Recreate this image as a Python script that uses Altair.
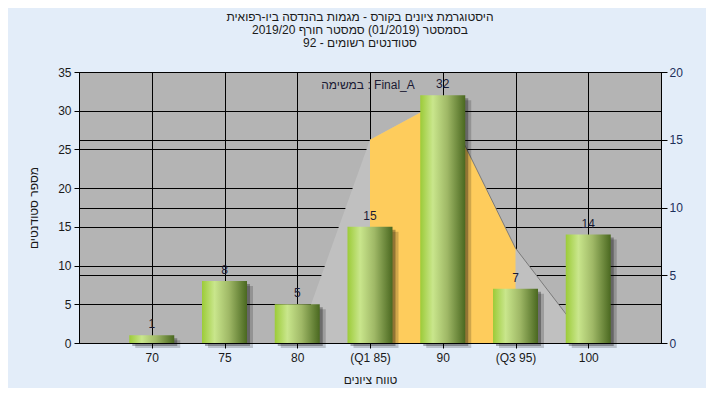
import altair as alt
import pandas as pd

# ---------------- data ----------------
categories = ["70", "75", "80", "(Q1 85)", "90", "(Q3 95)", "100"]
counts = [1, 8, 5, 15, 32, 7, 14]
curve = [0, 0, 0, 15, 17.9, 7, 0]
q_range = ["(Q1 85)", "90", "(Q3 95)"]
tail = ["90", "(Q3 95)", "100"]
left_ticks = [0, 5, 10, 15, 20, 25, 30, 35]
right_ticks = [0, 5, 10, 15, 20]

title_lines = [
    "היסטוגרמת ציונים בקורס - מגמות בהנדסה ביו-רפואית",
    "בסמסטר  (01/2019)  סמסטר חורף 2019/20",
    "סטודנטים רשומים - 92",
]
legend_text = "במשימה : Final_A"
x_title = "טווח ציונים"
y_title = "מספר סטודנטים"

df = pd.DataFrame({"cat": categories, "count": counts, "curve": curve})
df_q = df[df["cat"].isin(q_range)]
df_tail = df[df["cat"].isin(tail)]

W, H = 582, 271
FONT = "Liberation Sans"

x_enc = alt.X(
    "cat:O",
    sort=categories,
    scale=alt.Scale(type="point", padding=1),
    axis=alt.Axis(
        title=x_title, labelAngle=0, grid=True, labelPadding=4, titlePadding=11,
        tickSize=5,
    ),
)

left_axis = alt.Axis(
    values=left_ticks, title=y_title, grid=True, orient="left",
    tickSize=5, labelPadding=3, titlePadding=17,
)
right_axis = alt.Axis(
    values=right_ticks, title=None, grid=True, orient="right",
    tickSize=6, labelPadding=2, labelColor="#1c2f5a",
)

y_left = alt.Y("count:Q", scale=alt.Scale(domain=[0, 35], nice=False), axis=left_axis)
y_right = alt.Y("curve:Q", scale=alt.Scale(domain=[0, 20], nice=False), axis=right_axis)

grey_area = alt.Chart(df).mark_area(color="#c0c0c0", opacity=1).encode(x=x_enc, y=y_right)
yellow_area = alt.Chart(df_q).mark_area(color="#fecc5c", opacity=1).encode(x=x_enc, y=y_right)
tail_line = alt.Chart(df_tail).mark_line(color="#7a7a7a", strokeWidth=1).encode(x=x_enc, y=y_right)

curve_layer = alt.layer(grey_area, yellow_area, tail_line)

bar_grad = alt.Gradient(
    gradient="linear",
    stops=[
        alt.GradientStop(color="#9ccb38", offset=0),
        alt.GradientStop(color="#c9e68c", offset=0.28),
        alt.GradientStop(color="#9fb866", offset=0.6),
        alt.GradientStop(color="#4a6820", offset=1),
    ],
    x1=0, x2=1, y1=0, y2=0,
)

shadow1 = alt.Chart(df).mark_bar(size=45, color="black", opacity=0.18).encode(
    x=x_enc, y=y_left, xOffset=alt.value(6), yOffset=alt.value(5)
)
shadow2 = alt.Chart(df).mark_bar(size=45, color="black", opacity=0.3).encode(
    x=x_enc, y=y_left, xOffset=alt.value(3), yOffset=alt.value(3)
)
bars = alt.Chart(df).mark_bar(size=45, color=bar_grad).encode(x=x_enc, y=y_left)
labels = alt.Chart(df).mark_text(
    dy=-4, baseline="bottom", fontSize=12, font=FONT, color="#1a1a33"
).encode(x=x_enc, y=y_left, text="count:Q")

legend = alt.Chart(pd.DataFrame({"t": [legend_text]})).mark_text(
    fontSize=12, font=FONT, color="#1a1a33", align="center", baseline="middle"
).encode(x=alt.value(W / 2 - 2), y=alt.value(13), text="t:N")

bar_layer = alt.layer(shadow1, shadow2, bars, labels, legend)

chart = (
    alt.layer(curve_layer, bar_layer)
    .resolve_scale(y="independent")
    .properties(
        width=W,
        height=H,
        autosize=alt.AutoSizeParams(type="none"),
        padding={"left": 71, "top": 64, "right": 45, "bottom": 45},
        background="#e3edf9",
        title=alt.TitleParams(
            text=title_lines, anchor="middle", dx=-10, offset=16,
            fontSize=12, font=FONT, fontWeight="normal", color="#1a1a1a",
            lineHeight=13,
        ),
    )
    .configure_view(fill="#b4b4b4", stroke="black", strokeWidth=1)
    .configure_axis(
        labelFont=FONT, labelFontSize=12, labelColor="#1a1a1a",
        titleFont=FONT, titleFontSize=12, titleFontWeight="normal", titleColor="#1a1a1a",
        tickColor="black", domainColor="black", gridColor="black", gridOpacity=1,
        gridWidth=1, domainWidth=1,
    )
)

chart.save("out.html", embed_options={"renderer": "svg", "actions": False})
